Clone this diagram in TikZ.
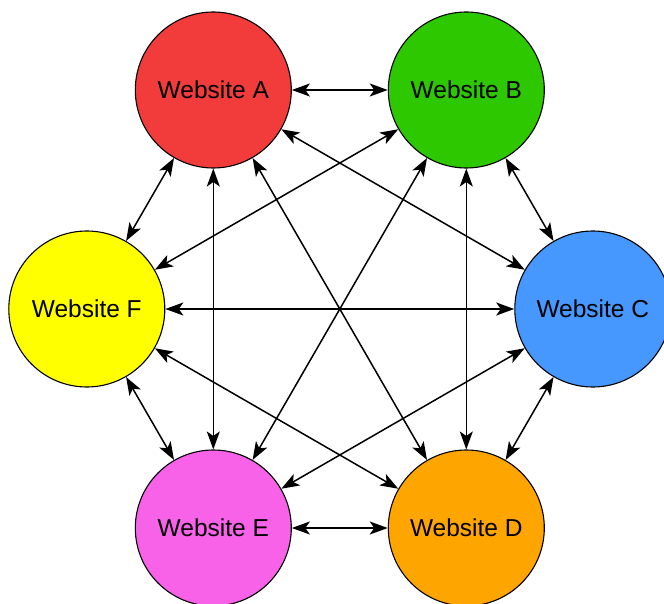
\documentclass[tikz,border=0pt]{standalone}
\usepackage{fontspec}
\setmainfont{Liberation Sans}
\usetikzlibrary{arrows.meta}
\definecolor{cA}{RGB}{242,60,60}
\definecolor{cB}{RGB}{45,200,0}
\definecolor{cC}{RGB}{70,152,255}
\definecolor{cD}{RGB}{255,165,0}
\definecolor{cE}{RGB}{248,98,233}
\definecolor{cF}{RGB}{255,255,0}
\tikzset{
  site/.style={circle, draw=black, line width=1.1pt, minimum size=156pt, inner sep=0pt,
    font=\fontsize{24.5}{26}\selectfont},
  link/.style={line width=1.5pt, {Stealth[length=18pt,width=13pt,inset=4.5pt]}-{Stealth[length=18pt,width=13pt,inset=4.5pt]}}
}
\begin{document}
\begin{tikzpicture}[x=1pt,y=-1pt]
\useasboundingbox (0,0) rectangle (664,604);
\clip (0,0) rectangle (664,604);
\node[site, fill=cA] (A) at (213.3,90) {Website A};
\node[site, fill=cB] (B) at (466.3,90) {Website B};
\node[site, fill=cC] (C) at (592.8,309) {Website C};
\node[site, fill=cD] (D) at (466.3,528) {Website D};
\node[site, fill=cE] (E) at (213.3,528) {Website E};
\node[site, fill=cF] (F) at (86.8,309) {Website F};
\foreach \s/\t in {A/B,A/C,A/D,A/E,A/F,B/C,B/D,B/E,B/F,C/D,C/E,C/F,D/E,D/F,E/F}
  \draw[link] (\s) -- (\t);
\end{tikzpicture}
\end{document}
